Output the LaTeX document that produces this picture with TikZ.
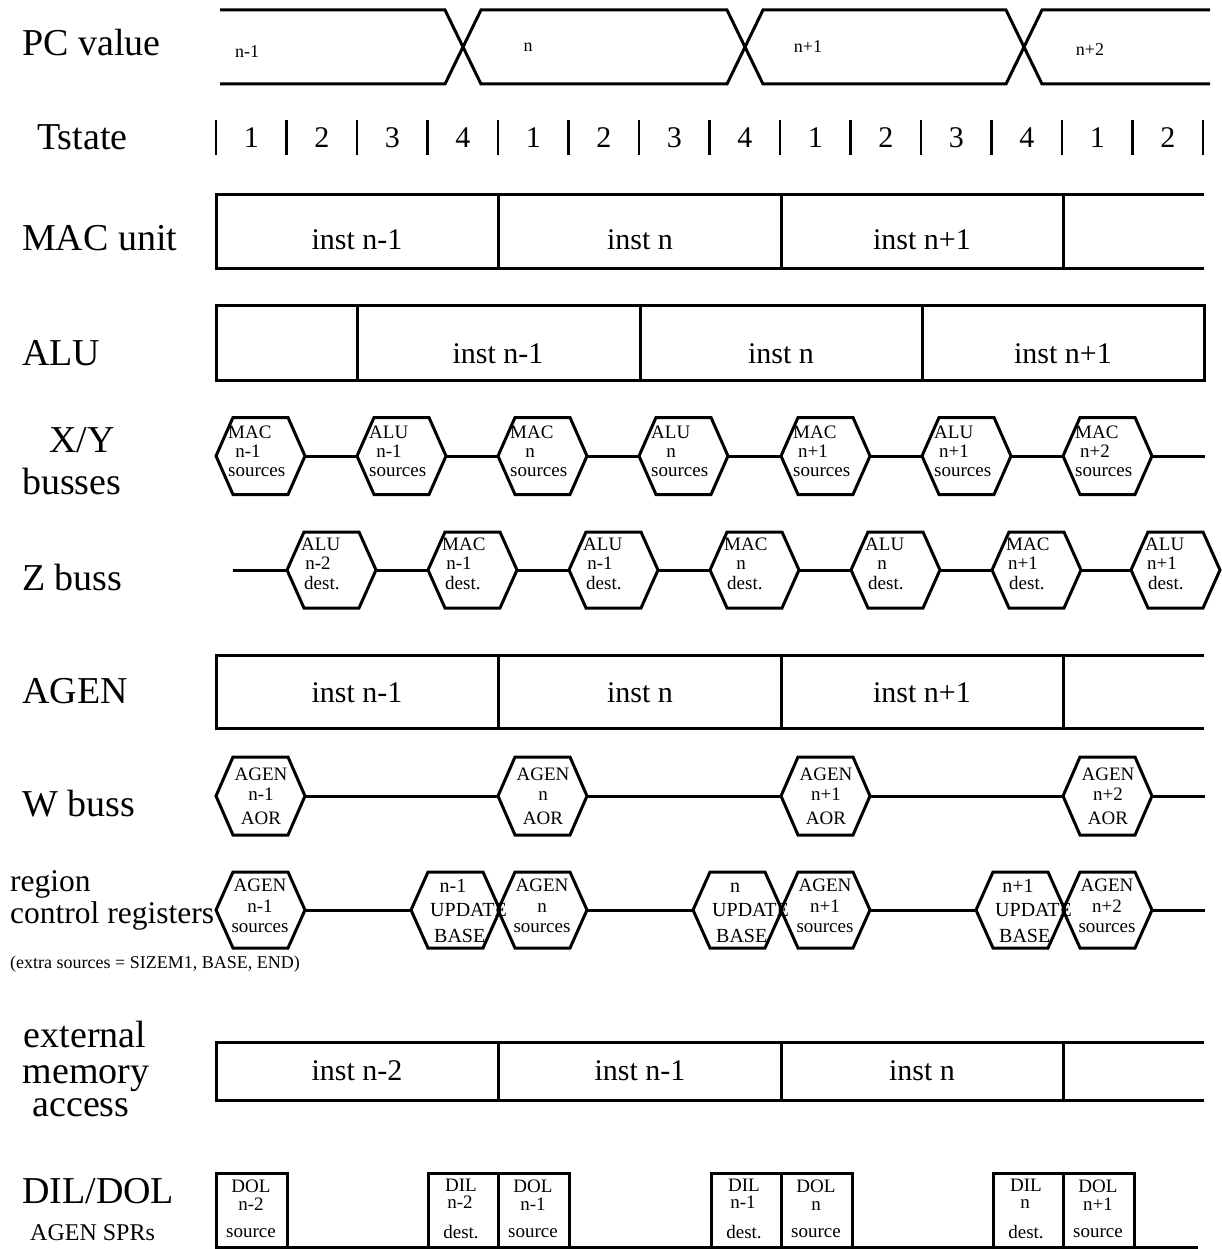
\documentclass[tikz,border=0pt]{standalone}
\usepackage{fontspec}
\setmainfont{Liberation Serif}
\tikzset{
  wire/.style={line width=3pt},
  tbar/.style={line width=2.4pt},
  lab/.style={font=\fontsize{38}{40}\selectfont, inner sep=0pt, anchor=base west},
  midlab/.style={font=\fontsize{31.5}{34}\selectfont, inner sep=0pt, anchor=base west},
  inst/.style={font=\fontsize{30}{34}\selectfont, inner sep=0pt, anchor=base},
  tnum/.style={font=\fontsize{30}{34}\selectfont, inner sep=0pt, anchor=base},
  pcl/.style={font=\fontsize{18}{20}\selectfont, inner sep=0pt, anchor=base},
  note/.style={font=\fontsize{18}{20}\selectfont, inner sep=0pt, anchor=base west},
  sm/.style={font=\fontsize{19}{20}\selectfont, inner sep=0pt},
  smw/.style={sm, anchor=base west},
  smc/.style={sm, anchor=base},
  updw/.style={font=\fontsize{20}{22}\selectfont, inner sep=0pt, anchor=base west},
  updc/.style={font=\fontsize{20}{22}\selectfont, inner sep=0pt, anchor=base},
}
% hexagon outline with named end points
\newcommand\hexshape[4]{%
  \draw[wire] (#2,#3) -- ++(17,-#4) -- ++(55,0) -- ++(17,#4) -- ++(-17,#4) -- ++(-55,0) -- cycle;
  \coordinate (#1-l) at (#2,#3);
  \coordinate (#1-r) at ({#2+89},#3);
}
\newcommand\xyhex[5]{%
  \hexshape{#1}{#2}{456}{38.5}
  \node[smw] (#1-a) at ({#2+12},438) {#3};
  \node[smc] (#1-b) at ({#2+32},457) {#4};
  \node[smw] (#1-c) at ({#2+12},476) {#5};
}
\newcommand\zhex[5]{%
  \hexshape{#1}{#2}{570}{38}
  \node[smw] (#1-a) at ({#2+14},550) {#3};
  \node[smc] (#1-b) at ({#2+31},569) {#4};
  \node[smw] (#1-c) at ({#2+17},589) {#5};
}
\newcommand\whex[3]{%
  \hexshape{#1}{#2}{796}{39}
  \node[smc] (#1-a) at ({#2+45},780) {AGEN};
  \node[smc] (#1-b) at ({#2+45},800) {#3};
  \node[smc] (#1-c) at ({#2+45},824) {AOR};
}
\newcommand\rahex[3]{%
  \hexshape{#1}{#2}{910}{38}
  \node[smc] (#1-a) at ({#2+44},891) {AGEN};
  \node[smc] (#1-b) at ({#2+44},912) {#3};
  \node[smc] (#1-c) at ({#2+44},932) {sources};
}
\newcommand\ruhex[3]{%
  \hexshape{#1}{#2}{910}{38}
  \node[updc] (#1-a) at ({#2+42},892) {#3};
  \node[updw] (#1-b) at ({#2+19},916) {UPDATE};
  \node[updw] (#1-c) at ({#2+23},942) {BASE};
}
\newcommand\dolbox[3]{%
  \draw[wire] (#2,1173) rectangle ({#2+71},1247);
  \node[smc] (#1-a) at ({#2+35},1192) {DOL};
  \node[smc] (#1-b) at ({#2+35},1210) {#3};
  \node[smc] (#1-c) at ({#2+35},1237) {source};
}
\newcommand\dilbox[3]{%
  \draw[wire] (#2,1173) rectangle ({#2+70},1247);
  \node[smc] (#1-a) at ({#2+33},1191) {DIL};
  \node[smc] (#1-b) at ({#2+32},1208) {#3};
  \node[smc] (#1-c) at ({#2+33},1238) {dest.};
}
\begin{document}
\begin{tikzpicture}[x=1pt,y=-1pt]
\useasboundingbox (0,0) rectangle (1222,1249);

% ---------- left labels ----------
\node[lab] (lpc) at (22,56) {PC value};
\node[lab] (lts) at (37,150) {Tstate};
\node[lab] (lmac) at (22,251) {MAC unit};
\node[lab] (lalu) at (22,365) {ALU};
\node[lab, anchor=base] (lxy) at (82,452) {X/Y};
\node[lab] (lbus) at (22,494) {busses};
\node[lab] (lz) at (22,590) {Z buss};
\node[lab] (lagen) at (22,703) {AGEN};
\node[lab] (lw) at (22,816) {W buss};
\node[midlab] (lreg) at (10,891) {region};
\node[midlab] (lctl) at (10,923) {control registers};
\node[note] (lextra) at (10,968) {(extra sources = SIZEM1, BASE, END)};
\node[lab, anchor=base] (lext1) at (85,1047) {external};
\node[lab, anchor=base] (lext2) at (86,1083) {memory};
\node[lab, anchor=base] (lext3) at (81,1116) {access};
\node[lab] (ldil) at (22,1203) {DIL/DOL};
\node[font=\fontsize{24}{26}\selectfont, inner sep=0pt, anchor=base west] (lspr) at (30,1240) {AGEN SPRs};

% ---------- PC value ----------
\draw[wire] (220,10) -- (445,10) -- (481,84) -- (727,84) -- (763,10) -- (1006,10) -- (1042,84) -- (1210,84);
\draw[wire] (220,84) -- (445,84) -- (481,10) -- (727,10) -- (763,84) -- (1006,84) -- (1042,10) -- (1210,10);
\node[pcl] (pc1) at (247,58) {n-1};
\node[pcl] (pc2) at (528,52) {n};
\node[pcl] (pc3) at (808,53) {n+1};
\node[pcl] (pc4) at (1090,56) {n+2};

% ---------- Tstate ----------
\foreach \k in {0,...,14} \draw[tbar] ({216+70.5*\k},120) -- ({216+70.5*\k},155);
\foreach \n [count=\i from 0] in {1,2,3,4,1,2,3,4,1,2,3,4,1,2}
  \node[tnum] (ts\i) at ({251.25+70.5*\i},148) {\n};

% ---------- MAC unit ----------
\draw[wire] (1204,195) -- (216,195) -- (216,268) -- (1204,268);
\foreach \x in {498,781,1063} \draw[wire] (\x,195) -- (\x,268);
\node[inst] (mac1) at (357,250) {inst n-1};
\node[inst] (mac2) at (640,250) {inst n};
\node[inst] (mac3) at (922,250) {inst n+1};

% ---------- ALU ----------
\draw[wire] (216,305) rectangle (1204,380);
\foreach \x in {357,640,922} \draw[wire] (\x,305) -- (\x,380);
\node[inst] (alu1) at (498,363) {inst n-1};
\node[inst] (alu2) at (781,363) {inst n};
\node[inst] (alu3) at (1063,363) {inst n+1};

% ---------- X/Y busses ----------
\xyhex{xy1}{216}{MAC}{n-1}{sources}
\xyhex{xy2}{357}{ALU}{n-1}{sources}
\xyhex{xy3}{498}{MAC}{n}{sources}
\xyhex{xy4}{639}{ALU}{n}{sources}
\xyhex{xy5}{781}{MAC}{n+1}{sources}
\xyhex{xy6}{922}{ALU}{n+1}{sources}
\xyhex{xy7}{1063}{MAC}{n+2}{sources}
\coordinate (xyend) at (1205,456);
\draw[wire] (xy1-r) -- (xy2-l) (xy2-r) -- (xy3-l) (xy3-r) -- (xy4-l) (xy4-r) -- (xy5-l)
  (xy5-r) -- (xy6-l) (xy6-r) -- (xy7-l) (xy7-r) -- (xyend);

% ---------- Z buss ----------
\coordinate (zstart) at (233,570);
\zhex{z1}{287}{ALU}{n-2}{dest.}
\zhex{z2}{428}{MAC}{n-1}{dest.}
\zhex{z3}{569}{ALU}{n-1}{dest.}
\zhex{z4}{710}{MAC}{n}{dest.}
\zhex{z5}{851}{ALU}{n}{dest.}
\zhex{z6}{992}{MAC}{n+1}{dest.}
\zhex{z7}{1131}{ALU}{n+1}{dest.}
\draw[wire] (zstart) -- (z1-l) (z1-r) -- (z2-l) (z2-r) -- (z3-l) (z3-r) -- (z4-l)
  (z4-r) -- (z5-l) (z5-r) -- (z6-l) (z6-r) -- (z7-l);

% ---------- AGEN ----------
\draw[wire] (1204,655) -- (216,655) -- (216,728) -- (1204,728);
\foreach \x in {498,781,1063} \draw[wire] (\x,655) -- (\x,728);
\node[inst] (ag1) at (357,702) {inst n-1};
\node[inst] (ag2) at (640,702) {inst n};
\node[inst] (ag3) at (922,702) {inst n+1};

% ---------- W buss ----------
\whex{w1}{216}{n-1}
\whex{w2}{498}{n}
\whex{w3}{781}{n+1}
\whex{w4}{1063}{n+2}
\coordinate (wend) at (1205,796);
\draw[wire] (w1-r) -- (w2-l) (w2-r) -- (w3-l) (w3-r) -- (w4-l) (w4-r) -- (wend);

% ---------- region control registers ----------
\rahex{ra1}{216}{n-1}
\ruhex{ru1}{411}{n-1}
\rahex{ra2}{498}{n}
\ruhex{ru2}{693}{n}
\rahex{ra3}{781}{n+1}
\ruhex{ru3}{976}{n+1}
\rahex{ra4}{1063}{n+2}
\coordinate (rend) at (1205,910);
\draw[wire] (ra1-r) -- (ru1-l) (ra2-r) -- (ru2-l) (ra3-r) -- (ru3-l) (ra4-r) -- (rend);

% ---------- external memory access ----------
\draw[wire] (1204,1042) -- (216,1042) -- (216,1100) -- (1204,1100);
\foreach \x in {498,781,1063} \draw[wire] (\x,1042) -- (\x,1100);
\node[inst] (ex1) at (357,1080) {inst n-2};
\node[inst] (ex2) at (640,1080) {inst n-1};
\node[inst] (ex3) at (922,1080) {inst n};

% ---------- DIL/DOL ----------
\dolbox{do1}{216}{n-2}
\dilbox{di1}{428}{n-2}
\dolbox{do2}{498}{n-1}
\dilbox{di2}{711}{n-1}
\dolbox{do3}{781}{n}
\dilbox{di3}{993}{n}
\dolbox{do4}{1063}{n+1}
\coordinate (dstart) at (216,1247);
\coordinate (dend) at (1198,1247);
\draw[wire] (dstart) -- (dend);
\end{tikzpicture}
\end{document}
